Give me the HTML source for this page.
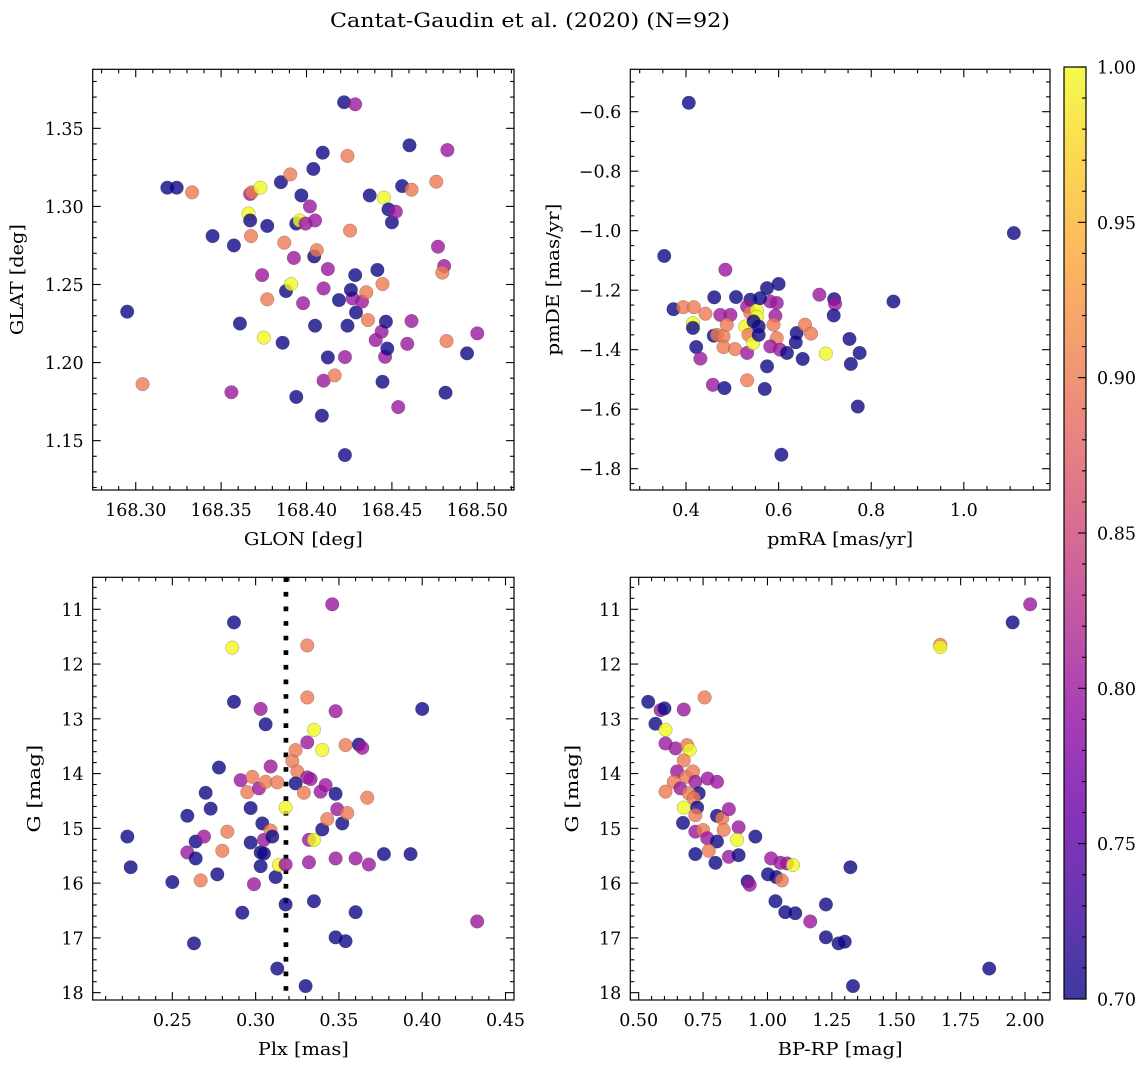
<!DOCTYPE html>
<html><head><meta charset="utf-8"><title>Cantat-Gaudin et al. (2020)</title>
<style>
html,body{margin:0;padding:0;background:#fff;}
svg{display:block;font-family:"DejaVu Serif","Liberation Serif",serif;}
</style></head>
<body>
<svg id="fig" width="1148" height="1067" viewBox="0 0 1148 1067" xmlns="http://www.w3.org/2000/svg">
<defs>
<linearGradient id="plasma" x1="0" y1="1" x2="0" y2="0">
<stop offset="0" stop-color="#0d0887"/><stop offset="0.1" stop-color="#41049d"/><stop offset="0.2" stop-color="#6a00a8"/><stop offset="0.3" stop-color="#8f0da4"/><stop offset="0.4" stop-color="#b12a90"/><stop offset="0.5" stop-color="#cc4778"/><stop offset="0.6" stop-color="#e16462"/><stop offset="0.7" stop-color="#f2844b"/><stop offset="0.8" stop-color="#fca636"/><stop offset="0.9" stop-color="#fcce25"/><stop offset="1" stop-color="#f0f921"/>
</linearGradient>
</defs>
<text x="530" y="27" text-anchor="middle" font-size="20" textLength="400" lengthAdjust="spacingAndGlyphs">Cantat-Gaudin et al. (2020) (N=92)</text>
</svg>
<script>
// ---------- data ----------
// Panel 1: GLON / GLAT
const glon1 = [168.295,168.304,168.3185,168.324,168.333,168.345,168.356,168.3575,168.361,168.366,168.367,168.3675,168.367,168.368,168.373,168.374,168.375,168.377,168.377,168.385,168.386,168.387,168.388,168.391,168.3905,168.3926,168.394,168.394,168.396,168.397,168.3995,168.398,168.402,168.404,168.405,168.4045,168.405,168.406,168.4095,168.409,168.41,168.41,168.4125,168.4125,168.4165,168.419,168.422,168.4225,168.424,168.424,168.4255,168.4225,168.4285,168.4285,168.427,168.429,168.4325,168.435,168.436,168.437,168.426,168.4405,168.4415,168.444,168.4445,168.4445,168.4453,168.4465,168.446,168.4473,168.448,168.45,168.4523,168.4537,168.456,168.459,168.4603,168.4615,168.4615,168.476,168.477,168.4806,168.4795,168.482,168.4814,168.4825,168.494,168.50];
const glat1 = [1.2326,1.1862,1.312,1.312,1.309,1.281,1.181,1.275,1.225,1.2955,1.291,1.281,1.308,1.309,1.312,1.256,1.216,1.2875,1.2405,1.3155,1.2127,1.2768,1.2458,1.2503,1.3205,1.267,1.178,1.289,1.291,1.307,1.289,1.238,1.300,1.324,1.291,1.268,1.2236,1.272,1.3344,1.166,1.2475,1.1884,1.2599,1.2033,1.1918,1.240,1.3667,1.2035,1.2236,1.3323,1.2845,1.1408,1.3654,1.256,1.2411,1.2321,1.239,1.245,1.2272,1.307,1.2465,1.2144,1.2593,1.2198,1.1877,1.2503,1.3056,1.2262,1.2037,1.209,1.2981,1.2898,1.2966,1.1715,1.313,1.212,1.3391,1.3107,1.2266,1.3158,1.2742,1.2618,1.2576,1.2138,1.1807,1.3361,1.2059,1.2187];
const prob1 = [0.70,0.90,0.70,0.70,0.90,0.70,0.80,0.70,0.70,1.0,0.70,0.90,0.80,0.90,1.0,0.80,1.0,0.70,0.90,0.70,0.70,0.90,0.70,1.0,0.90,0.80,0.70,0.70,1.0,0.70,0.80,0.80,0.80,0.70,0.80,0.70,0.70,0.90,0.70,0.70,0.80,0.80,0.80,0.70,0.90,0.70,0.70,0.80,0.70,0.90,0.90,0.70,0.80,0.70,0.80,0.70,0.80,0.90,0.90,0.70,0.70,0.80,0.70,0.80,0.70,0.90,1.0,0.70,0.80,0.70,0.70,0.70,0.80,0.80,0.70,0.80,0.70,0.90,0.80,0.90,0.80,0.80,0.90,0.90,0.70,0.80,0.70,0.80];

// Panel 2: pmRA / pmDE
const pmra2 = [0.406,1.108,0.353,0.848,0.485,0.373,0.394,0.417,0.442,0.415,0.415,0.422,0.431,0.461,0.508,0.460,0.474,0.496,0.467,0.481,0.488,0.481,0.506,0.458,0.483,0.532,0.539,0.532,0.539,0.528,0.532,0.535,0.545,0.553,0.553,0.557,0.557,0.575,0.600,0.575,0.570,0.582,0.596,0.593,0.589,0.596,0.582,0.603,0.618,0.606,0.639,0.637,0.652,0.657,0.670,0.688,0.702,0.720,0.722,0.719,0.753,0.756,0.775,0.771,0.546,0.560];
const pmde2 = [-0.570,-1.008,-1.085,-1.238,-1.131,-1.264,-1.257,-1.257,-1.279,-1.311,-1.327,-1.391,-1.430,-1.224,-1.223,-1.353,-1.283,-1.283,-1.350,-1.355,-1.316,-1.391,-1.398,-1.518,-1.529,-1.503,-1.232,-1.255,-1.277,-1.322,-1.411,-1.350,-1.378,-1.268,-1.290,-1.322,-1.350,-1.193,-1.179,-1.456,-1.532,-1.238,-1.243,-1.286,-1.316,-1.361,-1.389,-1.400,-1.411,-1.753,-1.344,-1.375,-1.431,-1.316,-1.346,-1.215,-1.413,-1.230,-1.246,-1.285,-1.364,-1.448,-1.411,-1.591,-1.305,-1.227];
const prob2 = [0.70,0.70,0.70,0.70,0.80,0.70,0.90,0.90,0.90,1.0,0.70,0.70,0.80,0.70,0.70,0.70,0.80,0.80,0.90,0.90,0.90,0.90,0.90,0.80,0.70,0.90,0.70,0.80,0.90,1.0,0.80,0.90,1.0,1.0,1.0,0.70,0.70,0.70,0.70,0.70,0.70,0.80,0.80,0.80,0.90,0.90,0.80,0.80,0.70,0.70,0.70,0.70,0.70,0.90,0.90,0.80,1.0,0.70,0.80,0.70,0.70,0.70,0.70,0.70,0.70,0.70];

// Panel 3: Plx / G
const plx3 = [0.223,0.225,0.250,0.259,0.259,0.264,0.264,0.263,0.269,0.267,0.270,0.273,0.277,0.278,0.280,0.283,0.286,0.287,0.287,0.291,0.292,0.295,0.297,0.297,0.298,0.299,0.302,0.303,0.303,0.303,0.306,0.304,0.306,0.309,0.305,0.309,0.310,0.305,0.313,0.312,0.314,0.313,0.318,0.318,0.318,0.322,0.324,0.325,0.324,0.329,0.331,0.331,0.331,0.331,0.333,0.332,0.332,0.330,0.335,0.335,0.335,0.339,0.340,0.340,0.342,0.343,0.346,0.348,0.348,0.348,0.348,0.349,0.352,0.354,0.354,0.355,0.360,0.360,0.362,0.364,0.367,0.368,0.377,0.393,0.400,0.433];
const gmag3 = [15.15,15.71,15.98,14.77,15.44,15.24,15.55,17.10,15.15,15.95,14.35,14.64,15.84,13.89,15.41,15.06,11.70,11.24,12.69,14.12,16.54,14.34,14.63,15.26,14.06,16.02,14.27,15.44,15.69,12.82,13.10,14.91,14.15,13.87,15.21,15.04,15.15,15.46,14.16,15.89,15.67,17.56,14.62,15.66,16.39,13.77,13.57,13.96,14.18,14.35,11.66,12.61,13.43,14.07,14.10,15.21,15.62,17.88,15.21,13.20,16.33,14.33,13.57,15.02,14.21,14.83,10.91,14.37,12.86,15.55,16.99,14.65,14.91,17.06,13.48,14.72,15.55,16.53,13.47,13.53,14.44,15.66,15.47,15.47,12.82,16.70];
const prob3 = [0.70,0.70,0.70,0.70,0.80,0.70,0.70,0.70,0.80,0.90,0.70,0.70,0.70,0.70,0.90,0.90,1.0,0.70,0.70,0.80,0.70,0.90,0.70,0.70,0.90,0.80,0.80,0.70,0.70,0.80,0.70,0.70,0.90,0.80,0.80,0.90,0.70,0.70,0.90,0.70,1.0,0.70,1.0,0.80,0.70,0.90,0.90,0.90,0.70,0.90,0.90,0.90,0.80,0.80,0.80,0.80,0.80,0.70,1.0,1.0,0.70,0.80,1.0,0.70,0.80,0.90,0.80,0.70,0.80,0.80,0.70,0.80,0.70,0.70,0.90,0.90,0.80,0.70,0.70,0.80,0.90,0.80,0.70,0.70,0.70,0.80];
const plxMedian = 0.3182;

// Panel 4: BP-RP / G
const bprp4 = [0.537,0.565,0.585,0.600,0.675,0.756,0.604,0.604,0.643,0.688,0.698,0.675,0.649,0.636,0.604,0.685,0.711,0.720,0.733,0.662,0.694,0.714,0.768,0.804,0.675,0.727,0.720,0.672,0.804,0.824,0.850,0.720,0.750,0.830,0.888,0.882,0.766,0.804,0.953,0.720,0.772,0.798,0.850,0.888,1.014,1.050,1.076,1.099,1.002,1.034,1.056,0.923,0.931,1.322,1.031,1.227,1.069,1.108,1.166,1.227,1.276,1.300,1.332,1.861,1.671,1.671,1.952,2.020];
const gmag4 = [12.69,13.09,12.84,12.81,12.83,12.61,13.20,13.45,13.54,13.48,13.57,13.76,13.96,14.15,14.33,14.06,13.96,14.15,14.36,14.27,14.36,14.45,14.09,14.15,14.62,14.62,14.76,14.90,14.77,14.82,14.65,15.06,15.03,15.03,14.98,15.21,15.18,15.24,15.15,15.47,15.41,15.63,15.52,15.49,15.55,15.63,15.64,15.67,15.84,15.89,15.95,15.97,16.03,15.71,16.33,16.39,16.53,16.55,16.70,16.99,17.10,17.07,17.88,17.56,11.65,11.69,11.24,10.91];
const prob4 = [0.70,0.70,0.80,0.70,0.80,0.90,1.0,0.80,0.80,0.90,1.0,0.90,0.80,0.90,0.90,0.90,0.90,0.80,0.70,0.80,0.90,0.90,0.80,0.80,1.0,0.70,0.90,0.70,0.70,0.90,0.80,0.80,0.90,0.90,0.80,1.0,0.80,0.70,0.70,0.70,0.90,0.70,0.80,0.70,0.80,0.80,0.80,1.0,0.70,0.70,0.90,0.70,0.80,0.70,0.70,0.70,0.70,0.70,0.80,0.70,0.70,0.70,0.70,0.70,0.90,1.0,0.70,0.80];

// tick labels
const p1XTicks = [168.30,168.35,168.40,168.45,168.50];
const p1XLabels = ["168.30","168.35","168.40","168.45","168.50"];
const p1YTicks = [1.15,1.20,1.25,1.30,1.35];
const p1YLabels = ["1.15","1.20","1.25","1.30","1.35"];
const p2XTicks = [0.4,0.6,0.8,1.0];
const p2XLabels = ["0.4","0.6","0.8","1.0"];
const p2YTicks = [-0.6,-0.8,-1.0,-1.2,-1.4,-1.6,-1.8];
const p2YLabels = ["\u22120.6","\u22120.8","\u22121.0","\u22121.2","\u22121.4","\u22121.6","\u22121.8"];
const p3XTicks = [0.25,0.30,0.35,0.40,0.45];
const p3XLabels = ["0.25","0.30","0.35","0.40","0.45"];
const gTicks = [11,12,13,14,15,16,17,18];
const gLabels = ["11","12","13","14","15","16","17","18"];
const p4XTicks = [0.50,0.75,1.00,1.25,1.50,1.75,2.00];
const p4XLabels = ["0.50","0.75","1.00","1.25","1.50","1.75","2.00"];
const cbTicks = [0.70,0.75,0.80,0.85,0.90,0.95,1.00];
const cbLabels = ["0.70","0.75","0.80","0.85","0.90","0.95","1.00"];

// ---------- rendering ----------
const NS = "http://www.w3.org/2000/svg";
const svg = document.getElementById("fig");
const TFS = 17.5;
function el(tag, attrs, parent){
  const e = document.createElementNS(NS, tag);
  for (const k in attrs) e.setAttribute(k, attrs[k]);
  (parent || svg).appendChild(e);
  return e;
}
const plasma = ["#0d0887","#41049d","#6a00a8","#8f0da4","#b12a90","#cc4778","#e16462","#f2844b","#fca636","#fcce25","#f0f921"];
function hex(h){return [parseInt(h.slice(1,3),16),parseInt(h.slice(3,5),16),parseInt(h.slice(5,7),16)];}
function cmap(v){
  let t = (v - 0.70) / 0.30; t = Math.max(0, Math.min(1, t));
  const f = t * 10, i = Math.min(9, Math.floor(f)), r = f - i;
  const a = hex(plasma[i]), b = hex(plasma[i+1]);
  return "rgb(" + [0,1,2].map(k => Math.round(a[k] + (b[k]-a[k])*r)).join(",") + ")";
}

function panel(cfg){
  const g = el("g", {});
  
  
  const sx = v => cfg.L + (v - cfg.x0) / (cfg.x1 - cfg.x0) * (cfg.R - cfg.L);
  const sy = v => cfg.T + (v - cfg.y0) / (cfg.y1 - cfg.y0) * (cfg.B - cfg.T);
  const cid = "clip-" + cfg.name;
  const cp = el("clipPath", {id: cid}, g);
  el("rect", {x: cfg.L, y: cfg.T, width: cfg.R - cfg.L, height: cfg.B - cfg.T}, cp);
  const pts = el("g", {"clip-path": "url(#" + cid + ")"}, g);
  
  
  if (cfg.vline !== undefined){
    const ln = el("line", {x1: sx(cfg.vline), x2: sx(cfg.vline), y1: cfg.T, y2: cfg.B, stroke: "#000", "stroke-width": 4.7, "stroke-dasharray": "4.7 9.9"}, pts);
    
    
  }
  for (let i = 0; i < cfg.xs.length; i++){
    const c = el("circle", {cx: sx(cfg.xs[i]), cy: sy(cfg.ys[i]), r: 6.8, fill: cmap(cfg.cs[i]), "fill-opacity": 0.8, stroke: "rgba(60,60,60,0.45)", "stroke-width": 0.5}, pts);
    
    
  }
  const fr = el("rect", {x: cfg.L, y: cfg.T, width: cfg.R - cfg.L, height: cfg.B - cfg.T, fill: "none", stroke: "#000", "stroke-width": 1.2}, g);
  
  
  const tk = el("g", {stroke: "#000", "stroke-width": 1.1}, g);
  
  
  cfg.xt.forEach((v, i) => {
    const x = sx(v);
    el("line", {x1: x, x2: x, y1: cfg.B, y2: cfg.B - 8}, tk);
    el("line", {x1: x, x2: x, y1: cfg.T, y2: cfg.T + 8}, tk);
    const t = el("text", {x: x, y: cfg.B + 26, "text-anchor": "middle", "font-size": TFS, fill: "#000"}, g);
    t.textContent = cfg.xl[i];
    
    
  });
  const xlo = Math.min(cfg.x0, cfg.x1), xhi = Math.max(cfg.x0, cfg.x1);
  for (let k = Math.ceil(xlo / cfg.xm - 1e-6); k * cfg.xm <= xhi + 1e-9; k++){
    const v = k * cfg.xm;
    if (cfg.xt.some(m => Math.abs(m - v) < cfg.xm * 0.1)) continue;
    const x = sx(v);
    el("line", {x1: x, x2: x, y1: cfg.B, y2: cfg.B - 4}, tk);
    el("line", {x1: x, x2: x, y1: cfg.T, y2: cfg.T + 4}, tk);
  }
  cfg.yt.forEach((v, i) => {
    const y = sy(v);
    el("line", {x1: cfg.L, x2: cfg.L + 8, y1: y, y2: y}, tk);
    el("line", {x1: cfg.R, x2: cfg.R - 8, y1: y, y2: y}, tk);
    const t = el("text", {x: cfg.L - 9, y: y + 6.5, "text-anchor": "end", "font-size": TFS, fill: "#000"}, g);
    t.textContent = cfg.yl[i];
    
    
  });
  const ylo = Math.min(cfg.y0, cfg.y1), yhi = Math.max(cfg.y0, cfg.y1);
  for (let k = Math.ceil(ylo / cfg.ym - 1e-6); k * cfg.ym <= yhi + 1e-9; k++){
    const v = k * cfg.ym;
    if (cfg.yt.some(m => Math.abs(m - v) < cfg.ym * 0.1)) continue;
    const y = sy(v);
    el("line", {x1: cfg.L, x2: cfg.L + 4, y1: y, y2: y}, tk);
    el("line", {x1: cfg.R, x2: cfg.R - 4, y1: y, y2: y}, tk);
  }
  const xlab = el("text", {x: (cfg.L + cfg.R) / 2, y: cfg.B + 55, "text-anchor": "middle", "font-size": 18, textLength: cfg.xlw, lengthAdjust: "spacingAndGlyphs"}, g);
  xlab.textContent = cfg.xlabel;
  
  
  const cy = (cfg.T + cfg.B) / 2;
  const ylab = el("text", {x: cfg.ylx, y: cy, "text-anchor": "middle", "font-size": 18, transform: "rotate(-90 " + cfg.ylx + " " + cy + ")", textLength: cfg.ylw, lengthAdjust: "spacingAndGlyphs"}, g);
  ylab.textContent = cfg.ylabel;
  
  
}

panel({name: "glon-glat-panel", L: 92.7, R: 514, T: 69.3, B: 490, x0: 168.2748, x1: 168.5215, y0: 1.3878, y1: 1.1184,
  xs: glon1, ys: glat1, cs: prob1, xt: p1XTicks, xl: p1XLabels, xm: 0.01, yt: p1YTicks, yl: p1YLabels, ym: 0.01,
  xlabel: "GLON [deg]", xlw: 119, ylabel: "GLAT [deg]", ylw: 111, ylx: 23});
panel({name: "pm-panel", L: 630.3, R: 1050, T: 69.3, B: 490, x0: 0.2797, x1: 1.1861, y0: -0.4575, y1: -1.8716,
  xs: pmra2, ys: pmde2, cs: prob2, xt: p2XTicks, xl: p2XLabels, xm: 0.05, yt: p2YTicks, yl: p2YLabels, ym: 0.05,
  xlabel: "pmRA [mas/yr]", xlw: 146, ylabel: "pmDE [mas/yr]", ylw: 152, ylx: 559});
panel({name: "plx-g-panel", L: 92.7, R: 514, T: 577.3, B: 1000, x0: 0.2022, x1: 0.4551, y0: 10.416, y1: 18.134,
  xs: plx3, ys: gmag3, cs: prob3, xt: p3XTicks, xl: p3XLabels, xm: 0.01, yt: gTicks, yl: gLabels, ym: 0.2,
  xlabel: "Plx [mas]", xlw: 91, ylabel: "G [mag]", ylw: 88, ylx: 40, vline: plxMedian});
panel({name: "cmd-panel", L: 630.3, R: 1050, T: 577.3, B: 1000, x0: 0.4674, x1: 2.097, y0: 10.416, y1: 18.134,
  xs: bprp4, ys: gmag4, cs: prob4, xt: p4XTicks, xl: p4XLabels, xm: 0.05, yt: gTicks, yl: gLabels, ym: 0.2,
  xlabel: "BP-RP [mag]", xlw: 125, ylabel: "G [mag]", ylw: 88, ylx: 578});

// colorbar
const cbL = 1064, cbR = 1086, cbT = 67, cbB = 999;
const cbg = el("g", {});


const cbr = el("rect", {x: cbL, y: cbT, width: cbR - cbL, height: cbB - cbT, fill: "url(#plasma)", "fill-opacity": 0.8, stroke: "#000", "stroke-width": 1.2}, cbg);


const cby = v => cbB - (v - 0.70) / 0.30 * (cbB - cbT);
cbTicks.forEach((v, i) => {
  const y = cby(v);
  el("line", {x1: cbR, x2: cbR - 8, y1: y, y2: y, stroke: "#000", "stroke-width": 1.1}, cbg);
  const t = el("text", {x: cbR + 11, y: y + 6.5, "font-size": TFS}, cbg);
  t.textContent = cbLabels[i];
  
  
});
for (let k = 71; k < 100; k++){
  if (k % 5 === 0) continue;
  const y = cby(k / 100);
  el("line", {x1: cbR, x2: cbR - 4, y1: y, y2: y, stroke: "#000", "stroke-width": 1.1}, cbg);
}
</script>
</body></html>
